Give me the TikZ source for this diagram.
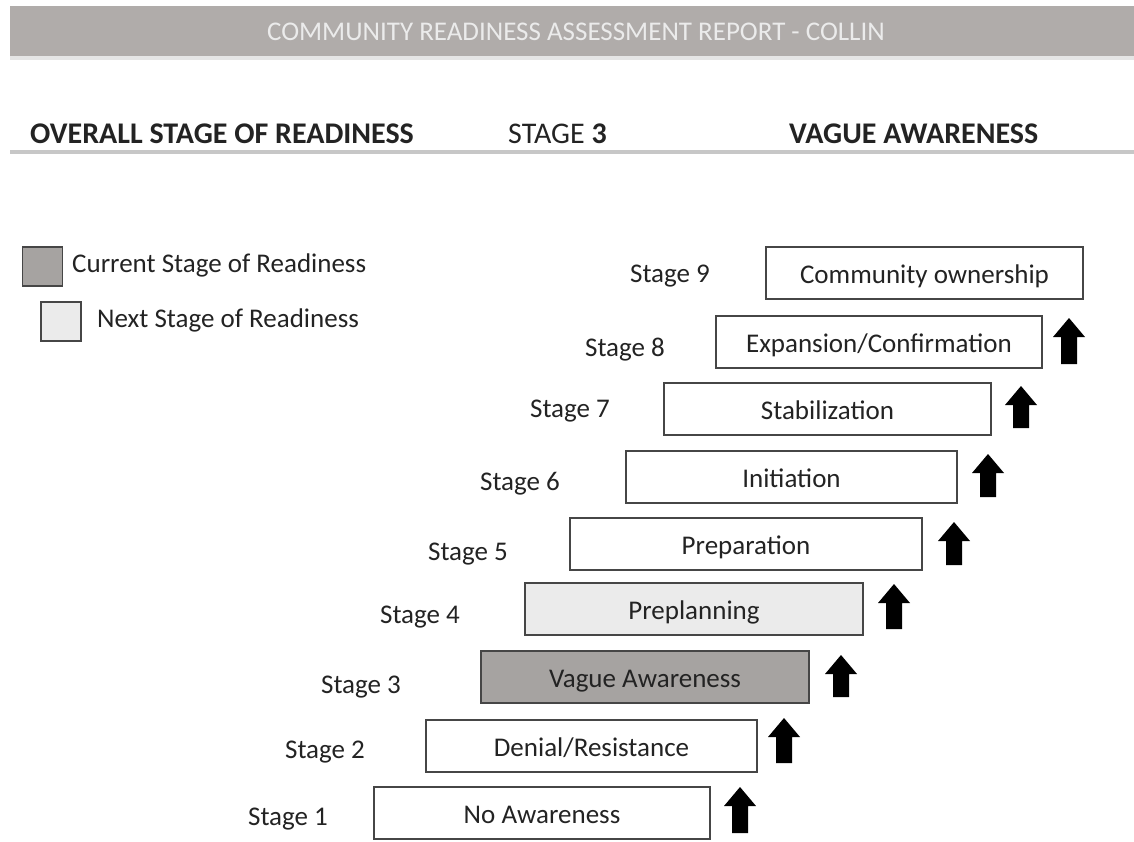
\documentclass[tikz,border=0pt]{standalone}
\usepackage{fontspec}
\setmainfont{Carlito}
\definecolor{barcol}{RGB}{176,172,170}
\definecolor{curcol}{RGB}{166,163,161}
\definecolor{nextcol}{RGB}{235,235,235}
\definecolor{edgecol}{RGB}{70,70,70}
\definecolor{txtcol}{RGB}{35,35,35}
\newcommand\stagearrow[3]{%
  \fill[black] ({#1},{#2}) -- ({#1+16},{#2+19}) -- ({#1+8},{#2+19}) -- ({#1+8},{#3}) -- ({#1-8},{#3}) -- ({#1-8},{#2+19}) -- ({#1-16},{#2+19}) -- cycle;}
\begin{document}
\begin{tikzpicture}[x=1pt,y=-1pt,
  txt/.style={text=txtcol,font=\fontsize{27}{32}\selectfont,inner sep=0pt},
  headtxt/.style={txt,anchor=base west,font=\fontsize{30}{36}\selectfont},
  stagebox/.style={draw=edgecol,line width=1.6pt,fill=white,minimum height=52pt,inner sep=0pt,text height=20pt,text depth=0pt,text=txtcol,font=\fontsize{27}{32}\selectfont},
  stagelabel/.style={txt,anchor=base},
  legbox/.style={draw=edgecol,line width=1.6pt,minimum width=40pt,minimum height=39pt,inner sep=0pt}]
\useasboundingbox (0,0) rectangle (1134,841);
% header bar
\fill[barcol] (10,6) rectangle (1134,56);
\fill[black!10] (10,56) rectangle (1134,60);
\node[txt,text=white!92!black,font=\fontsize{27}{32}\selectfont] (title) at (576,32) {COMMUNITY READINESS ASSESSMENT REPORT - COLLIN};
% header row
\node[headtxt,font=\fontsize{30}{36}\selectfont\bfseries] (overall) at (30,143) {OVERALL STAGE OF READINESS};
\node[headtxt] (stagenum) at (508,143) {STAGE \textbf{3}};
\node[headtxt,font=\fontsize{30}{36}\selectfont\bfseries] (vague) at (789,143) {VAGUE AWARENESS};
\fill[black!22] (10,150) rectangle (1134,154);
% legend
\node[legbox,fill=curcol] (legcur) at (42.5,266.5) {};
\node[txt,anchor=base west] (legcurtxt) at (72,272) {Current Stage of Readiness};
\node[legbox,fill=nextcol] (legnext) at (61,321.5) {};
\node[txt,anchor=base west] (legnexttxt) at (97,327) {Next Stage of Readiness};
% stages
\node[stagebox,minimum width=317pt] (s9) at (924.5,273) {Community ownership};
\node[stagebox,minimum width=326pt] (s8) at (879,342) {Expansion/Confirmation};
\node[stagebox,minimum width=327pt] (s7) at (827.5,409) {Stabilization};
\node[stagebox,minimum width=331pt] (s6) at (791.5,477) {Initiation};
\node[stagebox,minimum width=352pt] (s5) at (746,544) {Preparation};
\node[stagebox,minimum width=338pt,fill=nextcol] (s4) at (694,609) {Preplanning};
\node[stagebox,minimum width=328pt,fill=curcol] (s3) at (645,677) {Vague Awareness};
\node[stagebox,minimum width=331pt] (s2) at (591.5,746) {Denial/Resistance};
\node[stagebox,minimum width=336pt] (s1) at (542,813) {No Awareness};
% labels
\node[stagelabel] (l9) at (670,282) {Stage 9};
\node[stagelabel] (l8) at (625,356) {Stage 8};
\node[stagelabel] (l7) at (570,417) {Stage 7};
\node[stagelabel] (l6) at (520,490) {Stage 6};
\node[stagelabel] (l5) at (468,560) {Stage 5};
\node[stagelabel] (l4) at (420,623) {Stage 4};
\node[stagelabel] (l3) at (361,693) {Stage 3};
\node[stagelabel] (l2) at (325,758) {Stage 2};
\node[stagelabel] (l1) at (288,825) {Stage 1};
% arrows
\stagearrow{1069}{318}{364}
\stagearrow{1021}{386}{428}
\stagearrow{988}{454}{497}
\stagearrow{954}{522}{565}
\stagearrow{894}{584}{629}
\stagearrow{841}{655}{697}
\stagearrow{784}{718}{763}
\stagearrow{740}{787}{833}
\end{tikzpicture}
\end{document}
